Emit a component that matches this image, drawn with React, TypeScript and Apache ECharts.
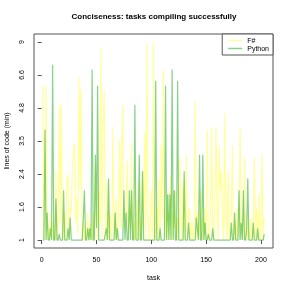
import React, { useEffect, useRef } from "react";
import * as echarts from "echarts";

const fsharp = [
  6.0, 1, 1.5, 6.0, 1, 1.2, 1, 1.5, 1, 1.3,
  1, 1, 2.5, 1, 1.2, 5.0, 1.3, 5.0, 1, 1.2,
  1.5, 1, 2.3, 2.4, 1, 1.6, 1.5, 2.7, 3.1, 3.4,
  1.3, 1.8, 1.1, 6.5, 2.0, 5.8, 1, 1.3, 1, 1.2,
  1, 1.5, 1, 1.3, 1, 1, 1.5, 1, 2.7, 1.6,
  1, 2.0, 1.3, 8.6, 1, 4.0, 5.8, 1.2, 1, 2.2,
  1, 1.5, 1.2, 1, 4.0, 1.3, 1, 1.8, 1, 1.3,
  3.5, 1.2, 3.1, 5.0, 1.2, 1.5, 1.4, 2.8, 1, 1.6,
  1.2, 3.4, 1, 1.3, 1, 1.8, 1, 2.2, 1, 1.4,
  1, 2.5, 1.2, 3.8, 1, 8.8, 1.5, 1, 1.2, 2.0,
  1, 9.0, 1.2, 1, 1.6, 1, 2.3, 1, 3.3, 1.4,
  7.0, 1, 1.5, 1, 2.0, 1.3, 1, 2.4, 1, 1.5,
  1.2, 2.0, 1, 1.4, 1, 2.9, 1.5, 1, 2.2, 1,
  1.3, 3.0, 1, 1.5, 1.6, 1, 1.3, 1, 1.2, 5.2,
  1, 1.5, 1, 1.2, 2.0, 1, 1.4, 1, 1.6, 1,
  3.9, 1.2, 1, 1.5, 4.0, 1.3, 1, 1.8, 4.0, 1.5,
  1, 3.3, 2.0, 2.5, 1.3, 1, 4.6, 1.4, 1, 2.5,
  1.2, 1, 1.5, 3.3, 1, 1.3, 1, 1.6, 1, 1.2,
  4.0, 1.4, 1, 1.3, 2.9, 1, 1.5, 1, 1.2, 1,
  1.4, 1, 1.2, 2.9, 1, 1.6, 1, 1.9, 1, 1.2,
  3.0, 1, 1.4,
];

const python = [
  1, 1, 3.9, 1, 1.5, 1, 1, 1.2, 1, 7.3,
  1, 1, 1.8, 1, 1, 1.1, 1, 1, 1, 2.0,
  1, 1, 1, 1.2, 1, 1.4, 1, 1, 1, 1,
  1, 1, 1, 1, 1, 1, 1, 1.4, 2.0, 1,
  1, 1.2, 1, 1.2, 1, 7.0, 1, 1, 3.0, 1.2,
  6.0, 1, 1, 1, 1, 1, 1, 1.1, 1.2, 1,
  2.3, 1, 1, 1, 1, 1, 1.5, 1, 1.2, 1,
  1, 1, 1, 1, 2.0, 1, 1.5, 1, 1, 2.0,
  1, 2.0, 1, 1, 5.0, 1, 1, 1, 3.0, 1,
  1, 2.5, 1, 1, 1, 1, 1, 1, 1, 1,
  1, 1, 1, 6.3, 1, 1, 1, 1.2, 1, 1,
  1, 1, 6.0, 1, 1.9, 1, 1.9, 1, 7.0, 1,
  2.0, 1, 1, 6.3, 1, 1, 1, 1, 1, 2.5,
  1, 1, 1, 1.3, 1, 1, 1, 1, 1, 1,
  1.4, 1.2, 1, 3.0, 1, 1, 3.0, 1, 1.3, 1,
  1, 1.1, 1, 1, 1, 1.2, 1, 1, 1, 1,
  1, 1, 1, 1, 1, 1, 1, 1, 1, 1,
  1, 1, 1.3, 1, 1, 1.5, 1, 1, 1, 2.0,
  1, 1.3, 1, 2.0, 1, 1, 1.2, 2.3, 1, 1,
  1, 1, 1.3, 1, 1, 1, 1.2, 1, 1, 1,
  1, 1, 1.1,
];

const xTicks = [0, 50, 100, 150, 200];
const yTickLabels = ["1", "1.6", "2.4", "3.5", "4.8", "6.6", "9"];

// axis is log(v + 1), ticks evenly spaced at index positions 0..6
const toT = (v: number) => (6 * (Math.log(v + 1) - Math.log(2))) / Math.log(5);

export default function App() {
  const ref = useRef<HTMLDivElement>(null);
  useEffect(() => {
    const chart = echarts.init(ref.current!, null, { renderer: "svg" });
    const font = "Liberation Sans";
    const toData = (arr: number[]) => arr.map((v, i) => [i + 1, toT(v)]);
    chart.setOption({
      animation: false,
      textStyle: { fontFamily: font },
      title: {
        text: "Conciseness: tasks compiling successfully",
        left: 154,
        top: 12,
        padding: 0,
        textAlign: "center",
        textStyle: { fontSize: 8, fontWeight: "bold", color: "#000", fontFamily: font },
      },
      legend: {
        orient: "vertical",
        right: 18,
        top: 34,
        itemWidth: 14,
        itemHeight: 1.5,
        itemGap: 1,
        icon: "rect",
        padding: [3, 4, 3, 6],
        borderColor: "#555",
        borderWidth: 1,
        backgroundColor: "#fff",
        textStyle: { fontSize: 7, color: "#000", fontFamily: font },
        data: ["F#", "Python"],
      },
      grid: {
        left: 34,
        right: 18,
        top: 34,
        bottom: 43,
        show: true,
        outerBoundsMode: "none",
        containLabel: false,
        borderColor: "#555",
        borderWidth: 1,
        backgroundColor: "transparent",
      },
      xAxis: {
        type: "value",
        min: -7,
        max: 211,
        name: "task",
        nameLocation: "middle",
        nameGap: 26,
        nameTextStyle: { fontSize: 7, color: "#000", fontFamily: font },
        axisLine: { show: false },
        splitLine: { show: false },
        axisTick: { show: true, length: 4, customValues: xTicks, lineStyle: { color: "#555" } },
        axisLabel: { customValues: xTicks, fontSize: 7, color: "#000", margin: 8, fontFamily: font },
      },
      yAxis: {
        type: "value",
        min: -0.24,
        max: 6.24,
        name: "lines of code (min)",
        nameLocation: "middle",
        nameRotate: 90,
        nameGap: 19,
        nameTextStyle: { fontSize: 7, color: "#000", fontFamily: font },
        axisLine: { show: false },
        splitLine: { show: false },
        axisTick: { show: true, length: 4, customValues: [0, 1, 2, 3, 4, 5, 6], lineStyle: { color: "#555" } },
        axisLabel: {
          customValues: [0, 1, 2, 3, 4, 5, 6],
          rotate: 90,
          fontSize: 7,
          color: "#000",
          margin: 9,
          fontFamily: font,
          formatter: (v: number) => yTickLabels[Math.round(v)] ?? "",
        },
      },
      series: [
        {
          name: "F#",
          type: "line",
          data: toData(fsharp),
          showSymbol: false,
          symbol: "none",
          color: "rgba(255,255,60,0.5)",
          lineStyle: { width: 1.2, color: "rgba(255,255,60,0.5)" },
          z: 2,
        },
        {
          name: "Python",
          type: "line",
          data: toData(python),
          showSymbol: false,
          symbol: "none",
          color: "rgba(40,170,40,0.55)",
          lineStyle: { width: 1.2, color: "rgba(40,170,40,0.55)" },
          z: 3,
        },
      ],
    });
    return () => chart.dispose();
  }, []);
  return <div ref={ref} style={{ position: "fixed", left: 0, top: 0, width: 291, height: 291 }} />;
}
